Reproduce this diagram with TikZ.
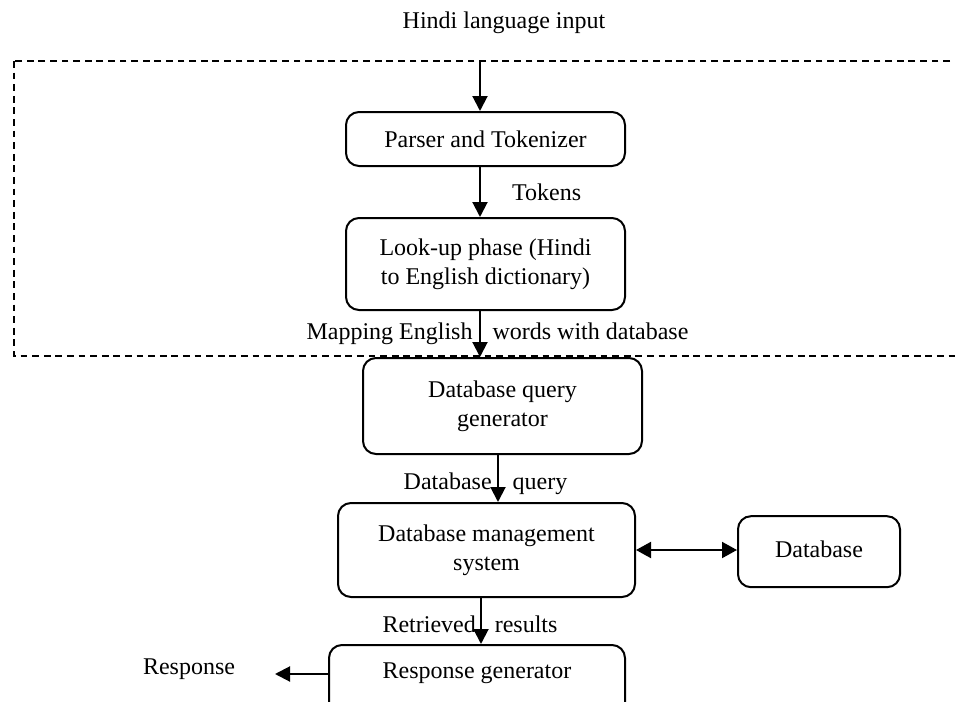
\documentclass[tikz,border=0pt]{standalone}
\usepackage{fontspec}
\setmainfont{Liberation Serif}
\usetikzlibrary{arrows.meta,calc}
\begin{document}
\begin{tikzpicture}[x=0.5pt,y=-0.5pt,
  font=\fontsize{12}{14.5}\selectfont,
  box/.style={draw, line width=1pt, rounded corners=6.5pt, align=center, inner sep=0pt},
  arr/.style={line width=1pt, -{Triangle[length=7.5pt,width=7.5pt]}},
  dbl/.style={line width=1pt, {Triangle[length=7.5pt,width=8pt]}-{Triangle[length=7.5pt,width=8pt]}},
  lbl/.style={inner sep=0pt}]
\useasboundingbox (0,0) rectangle (955,702);
\begin{scope}
\clip (0,0) rectangle (955,702);
% dashed frame (open past the right edge)
\draw[line width=1pt, dash pattern=on 3.4pt off 2.4pt] (14,61) rectangle (970,356);

\node[lbl] (title) at (504,23) {Hindi language input};
\coordinate (in) at (480,61);

\node[box, minimum width=139.5pt, minimum height=27pt] (parser) at (485.5,139) {Parser and Tokenizer};
\node[box, minimum width=139.5pt, minimum height=46pt] (lookup) at (485.5,264) {Look-up phase (Hindi\\to English dictionary)};
\node[box, minimum width=139.5pt, minimum height=48pt] (dbq) at (502.5,406) {Database query\\generator};
\node[box, minimum width=148.5pt, minimum height=47pt] (dbms) at (486.5,550) {Database management\\system};
\node[box, minimum width=81pt, minimum height=35.5pt] (db) at (819,551.7) {\raisebox{3pt}{Database}};
\node[box, minimum width=148pt, minimum height=50pt, anchor=north] (resp) at (477,644) {};
\node[lbl] (resptxt) at (477,673) {Response generator};

\node[lbl] (tokens) at (546.7,192) {Tokens};
\node[lbl] (maplbl) at (497.5,334) {Mapping English\hspace{10pt}words with database};
\node[lbl] (querylbl) at (485.5,484) {Database\hspace{10.5pt}query};
\node[lbl] (retlbl) at (470,624) {Retrieved\hspace{9.5pt}results};
\node[lbl] (response) at (189,669) {Response};
\coordinate (respend) at (275,674);

\draw[arr] (in) -- (in |- parser.north);
\draw[arr] (in |- parser.south) -- (in |- lookup.north);
\draw[arr] (in |- lookup.south) -- (in |- dbq.north);
\draw[arr] ($(dbq.south)+(-4.5,0)$) coordinate (q1) -- (q1 |- dbms.north);
\draw[arr] ($(dbms.south)+(-5.5,0)$) coordinate (r1) -- (r1 |- resp.north);
\draw[dbl] (dbms.east) -- (dbms.east -| db.west);
\draw[arr] (resp.west |- respend) -- (respend);
\end{scope}
\end{tikzpicture}
\end{document}
